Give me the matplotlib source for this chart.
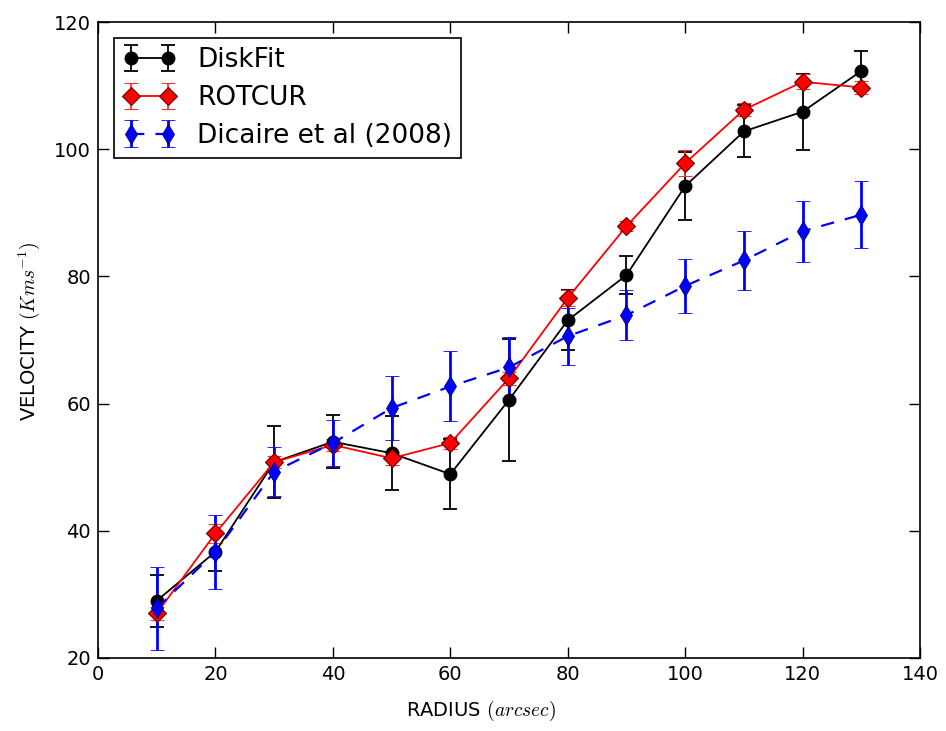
import matplotlib

matplotlib.use("Agg")
import matplotlib.pyplot as plt

plt.rcParams["mathtext.fontset"] = "cm"
plt.rcParams["font.family"] = ["DejaVu Sans"]

# Rotation curve: radius in arcsec, velocity in km/s
radius = [10, 20, 30, 40, 50, 60, 70, 80, 90, 100, 110, 120, 130]

diskfit_v = [29.0, 36.7, 50.8, 54.0, 52.2, 48.9, 60.6, 73.1, 80.2, 94.2, 102.8, 105.9, 112.3]
diskfit_err = [4.1, 3.0, 5.7, 4.2, 5.8, 5.5, 9.6, 4.7, 3.0, 5.4, 4.1, 6.0, 3.1]

rotcur_v = [27.0, 39.6, 50.8, 53.5, 51.4, 53.8, 64.0, 76.6, 87.9, 97.8, 106.2, 110.6, 109.7]
rotcur_err = [1.0, 1.5, 1.0, 1.0, 1.0, 1.0, 1.0, 1.3, 0.8, 2.0, 1.0, 1.2, 1.0]

dicaire_v = [27.8, 36.7, 49.3, 53.8, 59.3, 62.7, 65.7, 70.6, 73.9, 78.5, 82.5, 87.1, 89.7]
dicaire_err = [6.5, 5.8, 3.8, 3.6, 5.0, 5.5, 4.8, 4.5, 3.9, 4.2, 4.7, 4.8, 5.3]

x_ticks = [0, 20, 40, 60, 80, 100, 120, 140]
y_ticks = [20, 40, 60, 80, 100, 120]

fig = plt.figure(figsize=(9.46, 7.31), dpi=100)
ax = fig.add_axes([0.1036, 0.0999, 0.869, 0.870])

ax.errorbar(radius, diskfit_v, yerr=diskfit_err, color="black", marker="o",
            markersize=9, linewidth=1.3, elinewidth=1.3, capsize=5, capthick=1.3,
            markeredgecolor="black", label="DiskFit")
ax.errorbar(radius, rotcur_v, yerr=rotcur_err, color="#ff0000", ecolor="#ff3030",
            marker="D", markersize=9, linewidth=1.3, elinewidth=1.3, capsize=5,
            capthick=1.3, markeredgecolor="#600000", markeredgewidth=0.8,
            label="ROTCUR")
ax.errorbar(radius, dicaire_v, yerr=dicaire_err, color="#0000ff", marker="d",
            markersize=10, linewidth=1.6, linestyle="--", dashes=(6, 5),
            elinewidth=2.0, capsize=5, capthick=1.3, markeredgecolor="#000080",
            markeredgewidth=0.6, label="Dicaire et al (2008)")

ax.set_xlim(0, 140)
ax.set_ylim(20, 120)
ax.set_xticks(x_ticks)
ax.set_yticks(y_ticks)
ax.tick_params(direction="in", top=True, right=True, length=8, width=1,
               labelsize=14, pad=5)
for side in ax.spines.values():
    side.set_linewidth(1.2)

ax.set_xlabel(r"RADIUS $(arcsec)$", fontsize=14)
ax.set_ylabel(r"VELOCITY $(Kms^{-1})$", fontsize=14)
ax.xaxis.set_label_coords(0.466, -0.065)
ax.yaxis.set_label_coords(-0.068, 0.514)

leg = ax.legend(loc="upper left", numpoints=2, fontsize=19, fancybox=False,
                framealpha=1, edgecolor="black", borderpad=0.35,
                handlelength=2.0, handletextpad=0.8, labelspacing=0.45,
                borderaxespad=0.6)
leg.get_frame().set_linewidth(1.2)

fig.savefig("out.png", dpi=100, facecolor="white")
